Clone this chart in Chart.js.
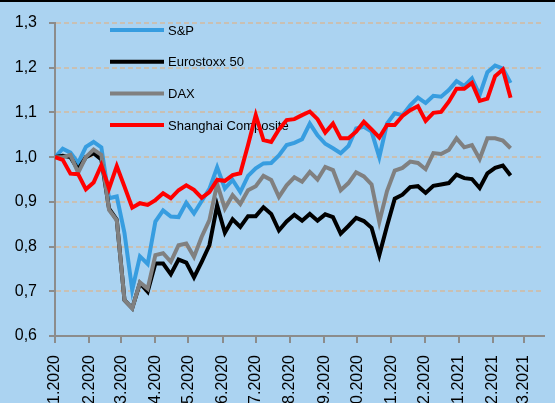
<!DOCTYPE html>
<html><head><meta charset="utf-8">
<script src="https://cdn.jsdelivr.net/npm/chart.js@4"></script>
<style>
html,body{margin:0;padding:0;background:#abd3f1;overflow:hidden}
#wrap{position:relative;width:555px;height:403px;overflow:hidden}
#topline{position:absolute;left:0;top:0;width:555px;height:2px;background:#000}
canvas{display:block}
</style></head><body>
<div id="wrap"><canvas id="c" width="555" height="403"></canvas><div id="topline"></div></div>
<script>
const weeks = [
 "2020-01-01","2020-01-08","2020-01-15","2020-01-22","2020-01-29",
 "2020-02-05","2020-02-12","2020-02-19","2020-02-26",
 "2020-03-04","2020-03-11","2020-03-18","2020-03-25",
 "2020-04-01","2020-04-08","2020-04-15","2020-04-22","2020-04-29",
 "2020-05-06","2020-05-13","2020-05-20","2020-05-27",
 "2020-06-03","2020-06-10","2020-06-17","2020-06-24",
 "2020-07-01","2020-07-08","2020-07-15","2020-07-22","2020-07-29",
 "2020-08-05","2020-08-12","2020-08-19","2020-08-26",
 "2020-09-02","2020-09-09","2020-09-16","2020-09-23","2020-09-30",
 "2020-10-07","2020-10-14","2020-10-21","2020-10-28",
 "2020-11-04","2020-11-11","2020-11-18","2020-11-25",
 "2020-12-02","2020-12-09","2020-12-16","2020-12-23","2020-12-30",
 "2021-01-06","2021-01-13","2021-01-20","2021-01-27",
 "2021-02-03","2021-02-10","2021-02-17"
];
const sp = [1.0,1.019,1.01,0.987,1.023,1.034,1.022,0.908,0.912,0.83,
 0.703,0.778,0.761,0.856,0.881,0.867,0.866,0.898,0.874,0.902,
 0.929,0.977,0.93,0.949,0.922,0.958,0.975,0.986,0.987,1.004,
 1.027,1.032,1.04,1.075,1.049,1.03,1.02,1.009,1.025,1.064,
 1.068,1.057,1.0,1.075,1.098,1.094,1.116,1.133,1.121,1.137,
 1.135,1.15,1.17,1.159,1.176,1.139,1.19,1.205,1.198,1.166];
const eurostoxx = [1.0,1.003,1.0,0.972,1.0,1.009,0.995,0.885,0.86,0.68,
 0.662,0.718,0.699,0.762,0.762,0.738,0.771,0.764,0.731,0.766,
 0.803,0.892,0.831,0.861,0.844,0.868,0.868,0.888,0.873,0.836,
 0.856,0.871,0.858,0.873,0.858,0.872,0.866,0.829,0.846,0.864,
 0.857,0.842,0.781,0.846,0.907,0.916,0.933,0.935,0.92,0.936,
 0.939,0.942,0.961,0.953,0.951,0.931,0.964,0.976,0.981,0.959];
const dax = [1.0,1.0,1.005,0.965,1.0,1.017,1.005,0.882,0.859,0.68,
 0.662,0.72,0.706,0.781,0.785,0.766,0.803,0.807,0.777,0.822,
 0.859,0.94,0.885,0.915,0.895,0.926,0.935,0.958,0.949,0.911,
 0.937,0.955,0.945,0.967,0.95,0.978,0.971,0.926,0.942,0.966,
 0.957,0.939,0.855,0.924,0.97,0.976,0.99,0.987,0.973,1.009,
 1.007,1.016,1.042,1.022,1.027,0.996,1.042,1.042,1.037,1.02];
const shanghai = [1.0,0.994,0.963,0.962,0.928,0.943,0.982,0.93,0.98,0.934,
 0.887,0.897,0.893,0.904,0.919,0.908,0.926,0.937,0.927,0.909,
 0.922,0.949,0.947,0.96,0.964,1.027,1.094,1.038,1.034,1.062,
 1.083,1.085,1.094,1.102,1.085,1.055,1.075,1.042,1.042,1.057,
 1.079,1.062,1.044,1.072,1.072,1.092,1.105,1.114,1.081,1.099,
 1.101,1.124,1.153,1.153,1.166,1.126,1.131,1.181,1.196,1.133];
const seriesNames = ["S&P","Eurostoxx 50","DAX","Shanghai Composite"];
const monthTicks = ["2020-01-01","2020-02-01","2020-03-01","2020-04-01","2020-05-01","2020-06-01",
 "2020-07-01","2020-08-01","2020-09-01","2020-10-01","2020-11-01","2020-12-01",
 "2021-01-01","2021-02-01","2021-03-01"];
const tickLabels = ["01.2020","02.2020","03.2020","04.2020","05.2020","06.2020","07.2020",
 "08.2020","09.2020","10.2020","11.2020","12.2020","01.2021","02.2021","03.2021"];

const FONT = '"Liberation Sans",Arial,sans-serif';
const toDay = s => (Date.UTC(+s.slice(0,4), +s.slice(5,7)-1, +s.slice(8,10)) - Date.UTC(2020,0,1)) / 86400000;
const mk = arr => arr.map((v,i) => ({x: toDay(weeks[i]), y: v}));

const legendInside = {
  id: 'legendInside',
  beforeDatasetsDraw(chart) {
    const ctx = chart.ctx;
    ctx.save();
    chart.data.datasets.forEach((ds, k) => {
      const y = 30 + k * 31.7;
      ctx.strokeStyle = ds.borderColor;
      ctx.lineWidth = 4;
      ctx.beginPath(); ctx.moveTo(110, y); ctx.lineTo(164, y); ctx.stroke();
      ctx.fillStyle = '#000';
      ctx.font = '13px ' + FONT;
      ctx.textBaseline = 'middle';
      ctx.textAlign = 'left';
      ctx.fillText(ds.label, 168, y + 1);
    });
    ctx.restore();
  }
};

new Chart(document.getElementById('c'), {
  type: 'line',
  data: { datasets: [
    {label: seriesNames[0], data: mk(sp), borderColor: '#379de0', order: 4},
    {label: seriesNames[1], data: mk(eurostoxx), borderColor: '#000000', order: 3},
    {label: seriesNames[2], data: mk(dax), borderColor: '#808080', order: 2},
    {label: seriesNames[3], data: mk(shanghai), borderColor: '#ff0000', order: 1}
  ]},
  options: {
    responsive: false, animation: false,
    layout: {padding: {top: 23, right: 0, left: 0, bottom: 0}},
    elements: {line: {borderWidth: 4, tension: 0, fill: false, borderJoinStyle: 'miter'}, point: {radius: 0}},
    plugins: {legend: {display: false}, tooltip: {enabled: false}},
    scales: {
      x: {
        type: 'linear', min: 0, max: 443,
        afterBuildTicks: ax => { ax.ticks = monthTicks.map(s => ({value: toDay(s)})); },
        afterFit: ax => { ax.height = 67; },
        ticks: {autoSkip: false, minRotation: 90, maxRotation: 90, padding: 12, color: '#000',
          font: {family: FONT, size: 16}, callback: (v, i) => tickLabels[i]},
        grid: {drawOnChartArea: false, drawTicks: true, tickLength: 7, color: '#8c8c8c', lineWidth: 2},
        border: {color: '#8c8c8c', width: 2}
      },
      y: {
        min: 0.6, max: 1.3,
        afterFit: ax => { ax.width = 55; },
        ticks: {stepSize: 0.1, padding: 12, color: '#000', font: {family: FONT, size: 16},
          callback: v => v.toFixed(1).replace('.', ',')},
        grid: {color: '#c9c0b3', lineWidth: 2, tickColor: '#8c8c8c', tickLength: 6, tickBorderDash: []},
        border: {color: '#8c8c8c', width: 2, dash: [5, 3]}
      }
    }
  },
  plugins: [legendInside]
});
</script>
</body></html>
